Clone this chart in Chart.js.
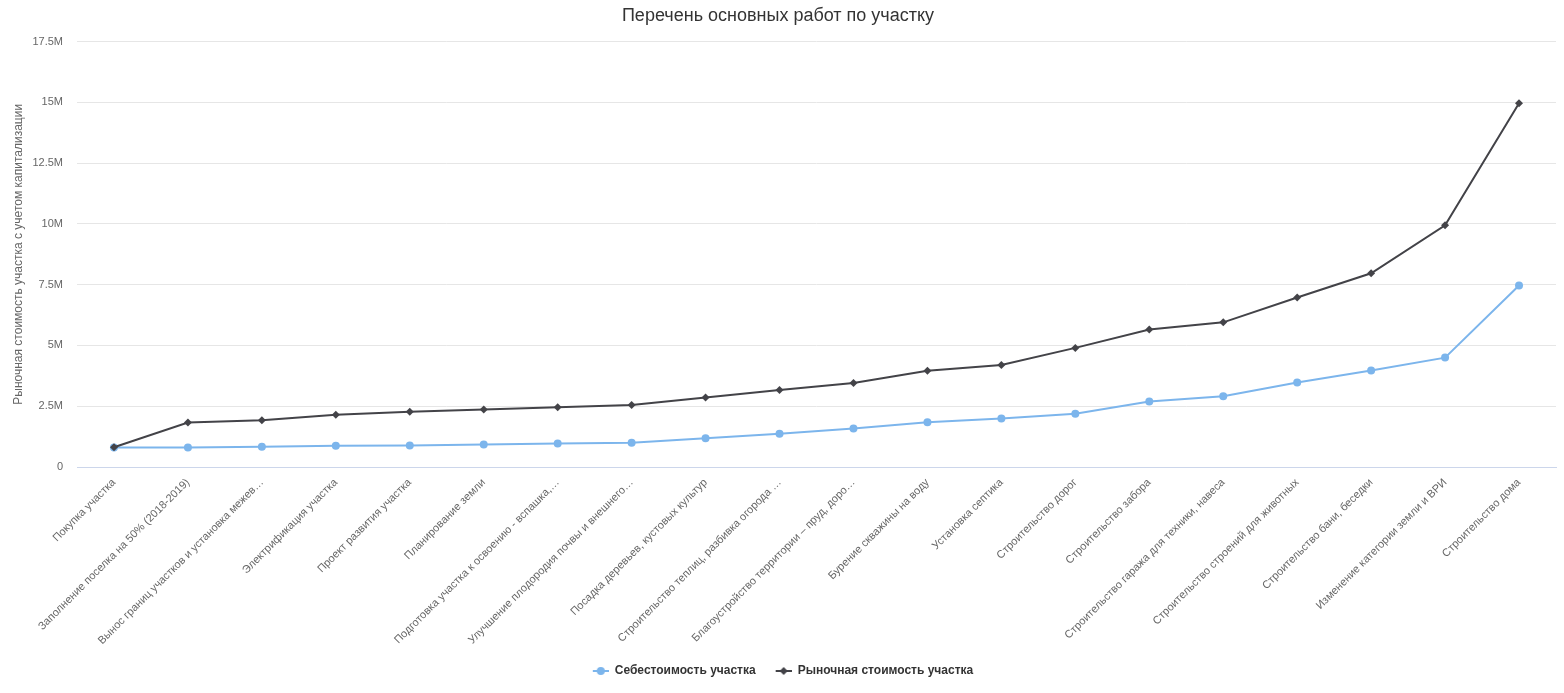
<!DOCTYPE html>
<html>
<head>
<meta charset="utf-8">
<script src="https://cdn.jsdelivr.net/npm/chart.js@4/dist/chart.umd.min.js"></script>
<style>
    body { margin: 0; background: #fff; }
    #wrap { width: 1564px; height: 693px; position: relative; }
</style>
</head>
<body>
<div id="wrap"><canvas id="myChart"></canvas></div>
<script>
const ctx = document.getElementById('myChart').getContext('2d');

// Categories (truncated the same way as in the source chart)
const categories = [
    "Покупка участка",
    "Заполнение поселка на 50% (2018-2019)",
    "Вынос границ участков и установка межев…",
    "Электрификация участка",
    "Проект развития участка",
    "Планирование земли",
    "Подготовка участка к освоению - вспашка,…",
    "Улучшение плодородия почвы и внешнего…",
    "Посадка деревьев, кустовых культур",
    "Строительство теплиц, разбивка огорода …",
    "Благоустройство территории – пруд, доро…",
    "Бурение скважины на воду",
    "Установка септика",
    "Строительство дорог",
    "Строительство забора",
    "Строительство гаража для техники, навеса",
    "Строительство строений для животных",
    "Строительство бани, беседки",
    "Изменение категории земли и ВРИ",
    "Строительство дома"
];

const costValues = [
    800000, 800000, 830000, 870000, 880000, 930000, 970000, 1000000, 1180000, 1370000,
    1580000, 1840000, 2000000, 2190000, 2690000, 2910000, 3480000, 3970000, 4500000, 7470000
];

const marketValues = [
    810000, 1830000, 1920000, 2150000, 2270000, 2370000, 2460000, 2550000, 2860000, 3170000,
    3460000, 3960000, 4200000, 4900000, 5660000, 5950000, 6970000, 7970000, 9940000, 14960000
];

const yTicks = [0, 2500000, 5000000, 7500000, 10000000, 12500000, 15000000, 17500000];

const seriesNames = ["Себестоимость участка", "Рыночная стоимость участка"];
const seriesColors = ['#7cb5ec', '#434348'];

const fontFamily = '"Liberation Sans", Arial, sans-serif';

// legend symbols: short line with the marker on top
function legendSymbol(color, diamond) {
    const c = document.createElement('canvas');
    c.width = 26;
    c.height = 12;
    const g = c.getContext('2d');
    g.strokeStyle = color;
    g.lineWidth = 2;
    g.beginPath();
    g.moveTo(10, 6);
    g.lineTo(26, 6);
    g.stroke();
    g.fillStyle = color;
    g.beginPath();
    if (diamond) {
        g.moveTo(18, 2); g.lineTo(22, 6); g.lineTo(18, 10); g.lineTo(14, 6);
        g.closePath();
    } else {
        g.arc(18, 6, 4, 0, Math.PI * 2);
    }
    g.fill();
    return c;
}
const legendSymbols = [legendSymbol(seriesColors[0], false), legendSymbol(seriesColors[1], true)];

const chart = new Chart(ctx, {
    type: 'line',
    data: {
        labels: categories,
        datasets: [
            {
                label: seriesNames[0],
                data: costValues,
                borderColor: seriesColors[0],
                backgroundColor: seriesColors[0],
                pointBackgroundColor: seriesColors[0],
                pointBorderWidth: 0,
                pointRadius: 4,
                pointStyle: 'circle',
                borderWidth: 2,
                tension: 0,
                order: 1
            },
            {
                label: seriesNames[1],
                data: marketValues,
                borderColor: seriesColors[1],
                backgroundColor: seriesColors[1],
                pointBackgroundColor: seriesColors[1],
                pointBorderWidth: 0,
                pointRadius: 4,
                pointStyle: 'rectRot',
                borderWidth: 2,
                tension: 0,
                order: 0
            }
        ]
    },
    options: {
        responsive: true,
        maintainAspectRatio: false,
        animation: false,
        layout: { padding: { left: 0, right: 8, top: 0, bottom: 6 } },
        plugins: {
            title: {
                display: true,
                text: 'Перечень основных работ по участку',
                color: '#333333',
                font: { family: fontFamily, size: 18, weight: 'normal' },
                padding: { top: 5, bottom: 15 }
            },
            legend: {
                position: 'bottom',
                labels: {
                    usePointStyle: true,
                    pointStyleWidth: 26,
                    padding: 10,
                    color: '#333333',
                    font: { family: fontFamily, size: 12, weight: 'bold' },
                    sort: (a, b) => a.datasetIndex - b.datasetIndex,
                    generateLabels: function(chart) {
                        const items = Chart.defaults.plugins.legend.labels.generateLabels(chart);
                        items.forEach(item => { item.pointStyle = legendSymbols[item.datasetIndex]; });
                        return items;
                    }
                }
            },
            tooltip: { enabled: false }
        },
        scales: {
            x: {
                offset: true,
                grid: { display: false, drawTicks: false },
                border: { display: true, color: '#ccd6eb', width: 1 },
                ticks: {
                    autoSkip: false,
                    minRotation: 45,
                    maxRotation: 45,
                    padding: 9,
                    color: '#666666',
                    font: { family: fontFamily, size: 11 }
                },
                afterFit: function(scale) { scale.height = 188; }
            },
            y: {
                min: 0,
                max: 17500000,
                afterBuildTicks: function(scale) { scale.ticks = yTicks.map(v => ({ value: v })); },
                grid: { color: '#e6e6e6', lineWidth: 1, drawTicks: false },
                border: { display: false },
                ticks: {
                    padding: 14,
                    color: '#666666',
                    font: { family: fontFamily, size: 11 },
                    callback: function(value) {
                        return value === 0 ? '0' : (value / 1000000) + 'M';
                    }
                },
                title: {
                    display: true,
                    text: 'Рыночная стоимость участка с учетом капитализации',
                    color: '#666666',
                    font: { family: fontFamily, size: 12 },
                    padding: { top: 11, bottom: 0 }
                },
                afterFit: function(scale) { scale.width = 77; }
            }
        }
    }
});
</script>
</body>
</html>
